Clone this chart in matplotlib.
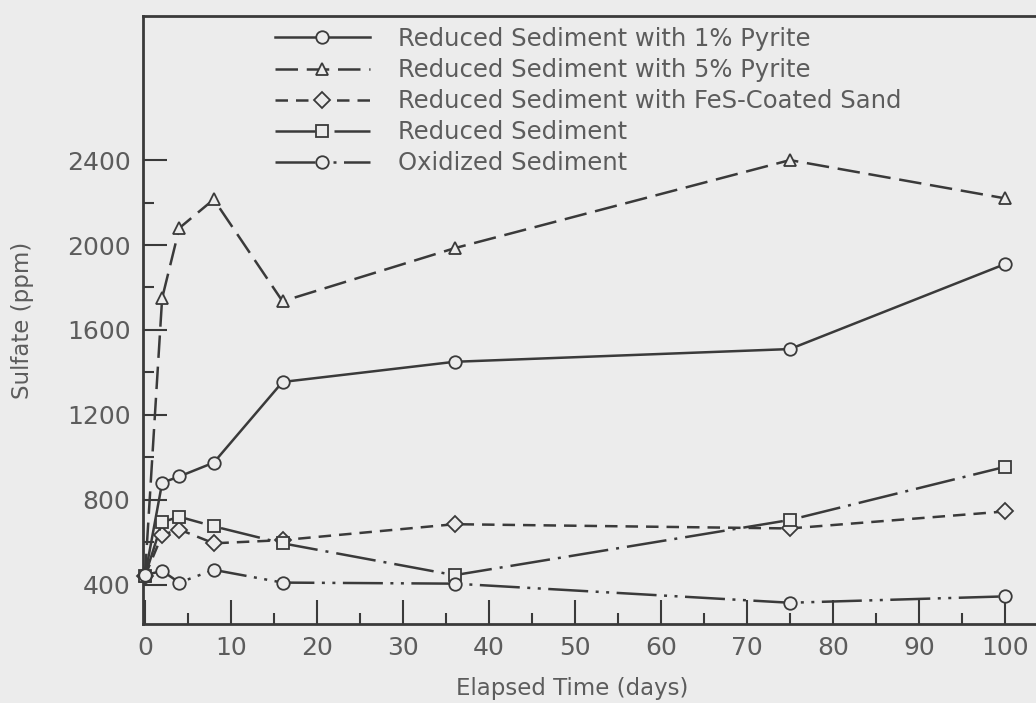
import matplotlib
matplotlib.use('Agg')
import matplotlib.pyplot as plt
from matplotlib.ticker import MultipleLocator, FixedLocator

# sampling times (days) and sulfate concentrations (ppm)
days = [0, 2, 4, 8, 16, 36, 75, 100]
pyrite_1 = [440, 880, 910, 975, 1355, 1450, 1510, 1910]
pyrite_5 = [440, 1750, 2080, 2215, 1735, 1985, 2400, 2220]
fes_sand = [440, 635, 660, 595, 610, 685, 665, 745]
reduced = [440, 695, 720, 675, 595, 445, 705, 955]
oxidized = [445, 465, 410, 470, 410, 405, 315, 345]

labels = ['Reduced Sediment with 1% Pyrite',
          'Reduced Sediment with 5% Pyrite',
          'Reduced Sediment with FeS-Coated Sand',
          'Reduced Sediment',
          'Oxidized Sediment']

bg = '#ececec'
ink = '#3a3a3a'
txt = '#5c5c5c'

plt.rcParams['font.family'] = ['DejaVu Sans']

fig = plt.figure(figsize=(10.36, 7.03), dpi=100, facecolor=bg)
ax = fig.add_axes([0.138, 0.1124, 0.866, 0.8646], facecolor=bg)

lw = 1.8
series = [
    (pyrite_1, 'o', (None, None)),
    (pyrite_5, '^', (9, 3.5)),
    (fes_sand, 'D', (5, 3.2)),
    (reduced, 's', (16, 3.2, 1.2, 3.2)),
    (oxidized, 'o', (16, 3, 1.2, 3, 1.2, 3)),
]
msize = {'o': 9, '^': 9, 'D': 8, 's': 9}
for (vals, mk, dash), lab in zip(series, labels):
    line, = ax.plot(days, vals, color=ink, lw=lw, marker=mk, ms=msize[mk],
                    mfc=bg, mec=ink, mew=1.3, label=lab, clip_on=False, zorder=3)
    if dash[0] is not None:
        line.set_dashes(dash)

ax.set_xlim(-0.23, 104.1)
ax.set_ylim(215, 3078)

ax.xaxis.set_major_locator(MultipleLocator(10))
ax.xaxis.set_minor_locator(MultipleLocator(5))
ax.yaxis.set_major_locator(FixedLocator([400, 800, 1200, 1600, 2000, 2400]))
ax.yaxis.set_minor_locator(FixedLocator([600, 1000, 1400, 1800, 2200]))
ax.set_xticks(range(0, 101, 10))
ax.tick_params(which='major', direction='in', length=17, width=1.5, color=ink,
               labelsize=18, labelcolor=txt, pad=9)
ax.tick_params(which='minor', direction='in', length=8, width=1.5, color=ink)
ax.tick_params(axis='x', which='both', top=False)
ax.tick_params(axis='y', which='both', right=False)

for side in ['left', 'bottom', 'top', 'right']:
    ax.spines[side].set_color(ink)
    ax.spines[side].set_linewidth(2)

ax.set_xlabel('Elapsed Time (days)', fontsize=16.5, color=txt)
ax.set_ylabel('Sulfate (ppm)', fontsize=16.5, color=txt)
ax.xaxis.set_label_coords(0.478, -0.088)
ax.yaxis.set_label_coords(-0.122, 0.5)

leg = ax.legend(loc='upper left', bbox_to_anchor=(275 / 1036, 1 - 27 / 703),
                bbox_transform=fig.transFigure, frameon=False, fontsize=17.5,
                handlelength=3.9, handletextpad=1.15, labelspacing=0.29,
                borderpad=0, borderaxespad=0, numpoints=1)
for t in leg.get_texts():
    t.set_color(txt)

fig.savefig('out.png', dpi=100, facecolor=bg)
